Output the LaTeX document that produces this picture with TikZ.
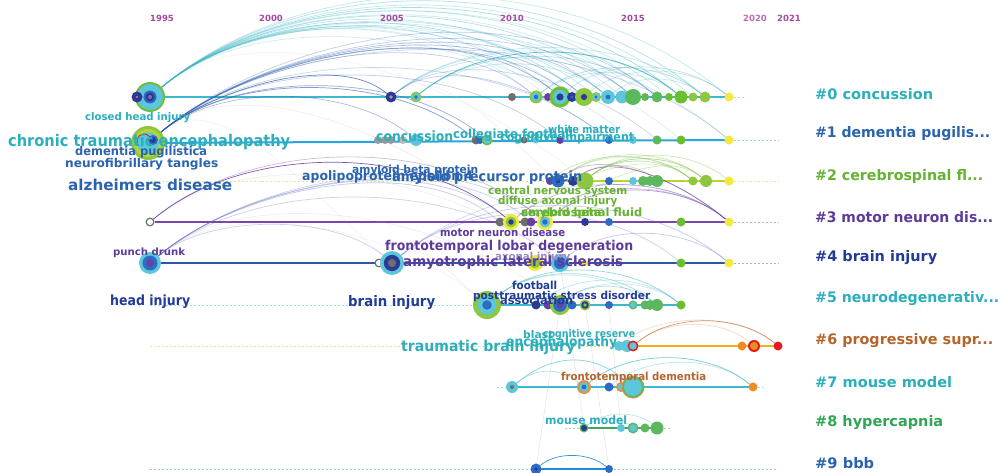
\documentclass[tikz,border=0pt]{standalone}
\usepackage{graphicx}
\usepackage{fontspec}
\setmainfont{DejaVu Sans}
\newcommand\kwf{\bfseries}
\usetikzlibrary{backgrounds}
\definecolor{cDark}{HTML}{2B3A92}
\definecolor{cBlue}{HTML}{2C6CC4}
\definecolor{cCyan}{HTML}{5EC6DA}
\definecolor{cGreen}{HTML}{6FBE3A}
\definecolor{cLgreen}{HTML}{8DC63F}
\definecolor{cMgreen}{HTML}{5CB85C}
\definecolor{cGreenB}{HTML}{6ABF2E}
\definecolor{cYellow}{HTML}{F4E83C}
\definecolor{cOrange}{HTML}{F08C22}
\definecolor{cOrangeL}{HTML}{D8944A}
\definecolor{cRed}{HTML}{E41B1E}
\definecolor{cGray}{HTML}{6E6E6E}
\definecolor{cLgray}{HTML}{9A9A9A}
\definecolor{cPurple}{HTML}{6A3FA4}
\definecolor{tYear}{HTML}{A8489F}
\definecolor{tTeal}{HTML}{2BAFBC}
\definecolor{tBlue}{HTML}{2A63AE}
\definecolor{tNavy}{HTML}{213B96}
\definecolor{tGreen}{HTML}{66B232}
\definecolor{tPurple}{HTML}{5C3B9C}
\definecolor{tBrown}{HTML}{B5652C}
\definecolor{tGreenE}{HTML}{2FA653}
\definecolor{lTeal}{HTML}{3EB7D3}
\definecolor{lBlueA}{HTML}{2BA5DD}
\definecolor{lYG}{HTML}{B7D432}
\definecolor{lPurple}{HTML}{7A45A8}
\definecolor{lNavy}{HTML}{2D56A8}
\definecolor{lOrange}{HTML}{F3B11F}
\definecolor{lGreen}{HTML}{3FA85E}
\definecolor{lBlueN}{HTML}{1E8CD6}
\definecolor{aTeal}{HTML}{3DB6C6}
\definecolor{aBlue}{HTML}{2F5CB0}
\definecolor{aGreen}{HTML}{7DC040}
\definecolor{aPurple}{HTML}{6A3CA0}
\definecolor{aViolet}{HTML}{5B68C0}
\definecolor{aOrange}{HTML}{C9803F}
\definecolor{aGray}{HTML}{B0B0B0}
\newcommand\fs[1]{\fontsize{#1}{#1}\selectfont}
\newcommand\fitw[2]{\resizebox{#1pt}{\height}{#2}}
\newcommand\kwnode[7]{%
  \node[kwn, minimum size={2*#4}, fill=#5] (#1) at (#2,-#3) {};
  \fill[#6] (#1.center) circle ({0.68*#4});
  \fill[#7] (#1.center) circle ({0.34*#4});}
\begin{document}
\begin{tikzpicture}[x=1pt,y=1pt,
  kwn/.style={circle, inner sep=0pt, outer sep=0pt, draw=none},
  yearlab/.style={font=\bfseries\fs{8.5}, text=tYear, inner sep=0pt},
  clab/.style={font=\bfseries\fs{14.5}, anchor=west, inner sep=0pt},
  kl/.style={inner sep=0pt, anchor=west},
  rowline/.style={line width=2pt},
  faintdash/.style={line width=0.6pt, dash pattern=on 2pt off 2pt, opacity=0.45},
  arcb/.style={line width=0.7pt, out=40, in=140, looseness=0.85},
  faintline/.style={line width=0.5pt, draw=aGray, opacity=0.35}]
\useasboundingbox (0,0) rectangle (1000,-473);

% years
\node[yearlab] (y1995) at (162,-18) {1995};
\node[yearlab] (y2000) at (271,-18) {2000};
\node[yearlab] (y2005) at (392,-18) {2005};
\node[yearlab] (y2010) at (512,-18) {2010};
\node[yearlab] (y2015) at (633,-18) {2015};
\node[yearlab, opacity=0.8] (y2020) at (755,-18) {2020};
\node[yearlab] (y2021) at (789,-18) {2021};

% ---------- row 0 ----------
\kwnode{a0}{150}{97}{15}{cGreen}{cCyan}{cCyan}
\fill[cCyan] (a0.center) circle (13);
\fill[cDark] (137,-97) circle (5.5);
\fill[magenta!60] (137,-97) circle (1.2);
\fill[cBlue] (150,-97) circle (6.5);
\fill[cDark] (150,-97) circle (4.5);
\fill[cPurple!80] (150,-97) circle (2);
\kwnode{b0}{391}{97}{5.5}{cDark}{cDark}{cLgray}
\kwnode{c0}{416}{97}{5.5}{cLgreen}{cCyan}{cBlue}
\kwnode{d0}{512}{97}{4}{cGray}{cGray}{cGray}
\kwnode{e0}{536}{97}{6.5}{cLgreen}{cCyan}{cBlue}
\kwnode{f0}{548}{97}{4}{cPurple}{cPurple}{cPurple}
\kwnode{g0}{560}{97}{10.5}{cGreen}{cCyan}{cDark}
\kwnode{h0}{572}{97}{5}{cDark}{cDark}{cBlue}
\kwnode{i0}{584}{97}{9}{cLgreen}{cLgreen}{cDark}
\kwnode{j0}{596}{97}{5}{cLgreen}{cCyan}{cBlue}
\kwnode{k0}{608}{97}{7}{cCyan}{cCyan}{cBlue}
\kwnode{l0}{622}{97}{6.5}{cCyan}{cCyan}{cCyan}
\kwnode{m0}{633}{97}{8}{cMgreen}{cMgreen}{cMgreen}
\kwnode{n0}{645}{97}{4}{cMgreen}{cMgreen}{cMgreen}
\kwnode{o0}{657}{97}{5.5}{cMgreen}{cMgreen}{cMgreen}
\kwnode{p0}{669}{97}{4}{cGreenB}{cGreenB}{cGreenB}
\kwnode{q0}{681}{97}{6.5}{cGreenB}{cGreenB}{cGreenB}
\kwnode{r0}{693}{97}{4.5}{cLgreen}{cLgreen}{cLgreen}
\kwnode{s0}{705}{97}{5.5}{cLgreen}{cLgreen}{cLgreen}
\kwnode{t0}{729}{97}{4.5}{cYellow}{cYellow}{cYellow}
\coordinate (x0) at (745,-97);

% ---------- row 1 ----------
\kwnode{a1}{148}{143}{17}{cLgreen}{cLgreen}{cLgreen}
\fill[lYG] (a1.center) circle (14);
\fill[cCyan] (a1.center) circle (11);
\fill[cBlue] (153,-140) circle (5);
\fill[cDark] (153,-140) circle (3);
\draw[cRed, line width=0.8pt] (150.6,-138.6) arc (20:200:7);
\kwnode{b1}{378}{140}{4}{cLgray}{cLgray}{cLgray}
\kwnode{c1}{385}{140}{4}{cLgray}{cLgray}{cLgray}
\kwnode{d1}{391}{140}{4}{cLgray}{cLgray}{cLgray}
\kwnode{e1}{403}{140}{4}{cLgray!70}{cLgray!70}{cLgray!70}
\kwnode{f1}{416}{140}{6}{cCyan}{cCyan}{cCyan}
\kwnode{g1}{476}{140}{4.5}{cGray}{cGray}{cGray}
\kwnode{h1}{480}{140}{4}{cBlue}{cBlue}{cBlue}
\kwnode{i1}{487}{140}{5.5}{cGreen}{cCyan}{cCyan}
\kwnode{j1}{524}{140}{3.5}{cGray}{cGray}{cGray}
\kwnode{k1}{536}{140}{3.5}{cCyan}{cCyan}{cCyan}
\kwnode{l1}{560}{140}{4}{cPurple}{cPurple}{cPurple}
\kwnode{m1}{609}{140}{4}{cBlue}{cBlue}{cBlue}
\kwnode{n1}{633}{140}{4}{cCyan}{cCyan}{cCyan}
\kwnode{o1}{657}{140}{4.5}{cMgreen}{cMgreen}{cMgreen}
\kwnode{p1}{681}{140}{4.5}{cGreenB}{cGreenB}{cGreenB}
\kwnode{q1}{729}{140}{4.5}{cYellow}{cYellow}{cYellow}
\coordinate (x1) at (778,-140);

% ---------- row 2 ----------
\coordinate (w2) at (150,-181);
\kwnode{a2}{550}{181}{4}{cPurple}{cPurple}{cPurple}
\kwnode{b2}{558}{181}{6.5}{cBlue}{cBlue}{cDark}
\kwnode{c2}{573}{181}{5}{cDark}{cDark}{cDark}
\kwnode{d2}{585}{181}{8.5}{cLgreen}{cLgreen}{cLgreen}
\kwnode{e2}{609}{181}{4}{cBlue}{cBlue}{cBlue}
\kwnode{f2}{633}{181}{4}{cCyan}{cCyan}{cCyan}
\kwnode{g2}{643}{181}{5}{cMgreen}{cMgreen}{cMgreen}
\kwnode{h2}{650}{181}{5}{cMgreen}{cMgreen}{cMgreen}
\kwnode{i2}{657}{181}{6}{cMgreen}{cMgreen}{cMgreen}
\kwnode{j2}{693}{181}{4.5}{cLgreen}{cLgreen}{cLgreen}
\kwnode{k2}{706}{181}{6}{cLgreen}{cLgreen}{cLgreen}
\kwnode{l2}{729}{181}{4.5}{cYellow}{cYellow}{cYellow}
\coordinate (x2) at (778,-181);

% ---------- row 3 ----------
\kwnode{a3}{150}{222}{4.5}{cGray}{white}{white}
\kwnode{b3}{500}{222}{4.5}{cGray}{cGray}{cGray}
\kwnode{c3}{507}{222}{4.5}{cGray}{cGray}{cGray}
\kwnode{d3}{511}{222}{8}{cYellow}{cLgreen}{cDark}
\kwnode{e3}{525}{222}{4.5}{cGray}{cGray}{cGray}
\kwnode{f3}{531}{222}{4.5}{cPurple}{cPurple}{cPurple}
\kwnode{g3}{545}{222}{8}{cYellow}{cCyan}{cBlue}
\kwnode{h3}{585}{222}{4}{cDark}{cDark}{cDark}
\kwnode{i3}{609}{222}{4}{cBlue}{cBlue}{cBlue}
\kwnode{j3}{681}{222}{4.5}{cGreenB}{cGreenB}{cGreenB}
\kwnode{k3}{729}{222}{4.5}{cYellow}{cYellow}{cYellow}
\coordinate (x3) at (778,-222);

% ---------- row 4 ----------
\kwnode{a4}{150}{263}{11}{cCyan}{cBlue}{cPurple}
\kwnode{b4}{379}{263}{4.5}{cGray}{white}{white}
\kwnode{c4}{392}{263}{12}{cCyan}{cDark}{cGray}
\kwnode{d4}{535}{263}{8}{cYellow}{cLgreen}{cLgreen}
\kwnode{e4}{560}{263}{9}{cCyan}{cBlue}{cBlue}
\kwnode{f4}{585}{263}{3}{cYellow}{cYellow}{cYellow}
\kwnode{g4}{681}{263}{4.5}{cGreenB}{cGreenB}{cGreenB}
\kwnode{h4}{729}{263}{4.5}{cYellow}{cYellow}{cYellow}
\coordinate (x4) at (778,-263);

% ---------- row 5 ----------
\coordinate (w5) at (150,-305);
\kwnode{a5}{487}{305}{14}{cLgreen}{cCyan}{cBlue}
\kwnode{b5}{536}{305}{4.5}{cDark}{cDark}{cDark}
\kwnode{c5}{548}{305}{4.5}{cPurple}{cPurple}{cPurple}
\kwnode{d5}{560}{305}{10}{cLgreen}{cBlue}{cPurple}
\kwnode{e5}{572}{305}{4.5}{cBlue}{cBlue}{cBlue}
\kwnode{f5}{585}{305}{5.5}{cLgreen}{cDark}{cLgreen}
\kwnode{g5}{609}{305}{4}{cBlue}{cBlue}{cBlue}
\kwnode{h5}{633}{305}{4.5}{cMgreen}{cCyan}{cCyan}
\kwnode{i5}{645}{305}{4.5}{cMgreen}{cMgreen}{cMgreen}
\kwnode{j5}{650}{305}{5}{cMgreen}{cMgreen}{cMgreen}
\kwnode{k5}{657}{305}{6}{cMgreen}{cMgreen}{cMgreen}
\kwnode{l5}{681}{305}{4.5}{cGreenB}{cGreenB}{cGreenB}

% ---------- row 6 ----------
\coordinate (w6) at (150,-346);
\kwnode{a6}{619}{346}{5}{cCyan}{cCyan}{cCyan}
\kwnode{b6}{627}{346}{6}{cCyan}{cCyan}{cCyan}
\kwnode{c6}{633}{346}{5.5}{cRed}{cCyan}{cCyan}
\kwnode{d6}{742}{346}{4.5}{cOrange}{cOrange}{cOrange}
\kwnode{e6}{754}{346}{6}{cRed}{cOrange}{cOrange}
\kwnode{f6}{778}{346}{4.5}{cRed}{cRed}{cRed}

% ---------- row 7 ----------
\coordinate (w7) at (497,-387);
\kwnode{a7}{512}{387}{6}{cCyan}{cCyan}{cGray}
\kwnode{b7}{584}{387}{7}{cOrangeL}{cCyan}{cBlue}
\kwnode{c7}{609}{387}{4.5}{cBlue}{cBlue}{cBlue}
\kwnode{d7}{621}{387}{5}{cOrange}{cCyan}{cCyan}
\kwnode{e7}{633}{387}{11.5}{cOrangeL}{cCyan}{cCyan}
\fill[cMgreen] (e7.center) circle (10.5);
\fill[cCyan] (e7.center) circle (9);
\kwnode{f7}{753}{387}{4.5}{cOrange}{cOrange}{cOrange}
\coordinate (x7) at (765,-387);

% ---------- row 8 ----------
\coordinate (w8) at (565,-428);
\kwnode{a8}{584}{428}{4.5}{cMgreen}{cDark}{cDark}
\kwnode{b8}{621}{428}{4}{cCyan}{cCyan}{cCyan}
\kwnode{c8}{633}{428}{5.5}{cMgreen}{cCyan}{cCyan}
\kwnode{d8}{645}{428}{4.5}{cMgreen}{cMgreen}{cMgreen}
\kwnode{e8}{657}{428}{6.5}{cMgreen}{cMgreen}{cMgreen}
\coordinate (x8) at (670,-428);

% ---------- row 9 ----------
\coordinate (w9) at (150,-469);
\kwnode{a9}{536}{469}{5.5}{cBlue}{cBlue}{cDark}
\kwnode{b9}{609}{469}{4}{cBlue}{cBlue}{cBlue}
\coordinate (x9) at (778,-469);

\begin{pgfonlayer}{background}
\fill[white] (0,0) rectangle (1000,-473);
% faint straight links
\draw[faintline] (f5.center) -- (b9.center);
\draw[faintline] (d5.center) -- (a9.center);
\draw[faintline] (g5.center) -- (b8.center);
\draw[faintline] (e4.center) -- (a8.center);
% timelines
\draw[rowline, lTeal] (a0.center) -- (t0.center);
\draw[faintdash, lTeal] (t0) -- (x0);
\draw[rowline, lBlueA] (a1.center) -- (q1.center);
\draw[faintdash, lBlueA] (q1) -- (x1);
\draw[faintdash, lYG] (w2) -- (a2);
\draw[rowline, lYG] (a2.center) -- (l2.center);
\draw[faintdash, lYG] (l2) -- (x2);
\draw[rowline, lPurple, line width=1.8pt] (a3) -- (k3.center);
\draw[faintdash, lPurple] (k3) -- (x3);
\draw[rowline, lNavy] (a4.center) -- (h4.center);
\draw[faintdash, lNavy] (h4) -- (x4);
\draw[faintdash, lTeal] (w5) -- (a5);
\draw[rowline, lTeal] (a5.center) -- (l5.center);
\draw[faintdash, lOrange] (w6) -- (a6);
\draw[rowline, lTeal] (a6.center) -- (c6.center);
\draw[rowline, lOrange] (c6.center) -- (f6.center);
\draw[faintdash, lTeal] (w7) -- (a7);
\draw[rowline, lTeal] (a7.center) -- (f7.center);
\draw[faintdash, lTeal] (f7) -- (x7);
\draw[faintdash, lGreen] (w8) -- (a8);
\draw[rowline, lGreen] (a8.center) -- (e8.center);
\draw[faintdash, lGreen] (e8) -- (x8);
\draw[faintdash, lBlueN] (w9) -- (x9);
\draw[rowline, lBlueN] (a9.center) -- (b9.center);
% citation arcs
\foreach \s/\t/\o/\l in {a1/d3/.2/.8, a0/d2/.15/.8, a3/e4/.2/.8, a4/d5/.2/.8, c4/a5/.2/.8, a4/a5/.15/.8, b0/b2/.15/.8, a1/c4/.15/.8}
  \draw[arcb, draw=aGray, opacity=\o, looseness=\l] (\s) to (\t);
\foreach \s/\t/\o/\l in {a0/g0/.35/.85, a0/i0/.45/.85, a0/k0/.35/.85, a0/l0/.3/.8, a0/m0/.4/.84, a0/n0/.25/.84, a0/o0/.35/.86, a0/p0/.25/.84, a0/q0/.45/.85, a0/r0/.3/.86, a0/s0/.4/.88, a0/t0/.3/.89, a0/e0/.25/.88, a0/j0/.3/.8, b0/q0/.3/.8, b0/s0/.3/.8, b0/m0/.3/.8, c0/q0/.85/.85, c0/o0/.4/.85, c0/k0/.3/.85, e0/s0/.4/.85, g0/t0/.35/.85, i0/t0/.3/.85, k0/s0/.3/.85, e0/q0/.3/.8, a0/q1/.25/.8, a0/n1/.25/.8, a0/p1/.2/.84, a0/h0/.25/.82, a0/f0/.2/.86}
  \draw[arcb, draw=aTeal, opacity=\o, looseness=\l] (\s) to (\t);
\foreach \s/\t/\o/\l in {a1/b0/.75/.74, a1/g0/.45/.8, a1/i0/.4/.8, a1/k0/.35/.8, a1/m0/.3/.8, a1/h0/.4/.8, a1/e0/.3/.8, a1/g1/.6/.8, a1/i1/.5/.8, a1/f1/.4/.8, a1/l1/.3/.8, a1/m1/.25/.8, a1/q1/.25/.8, b0/m1/.3/.8, b0/o1/.25/.8, a1/o0/.3/.84}
  \draw[arcb, draw=aBlue, opacity=\o, looseness=\l] (\s) to (\t);
\foreach \s/\t/\o/\l in {d2/k2/.6/.85, d2/j2/.5/.85, b2/k2/.4/.85, c2/i2/.4/.85, a2/j2/.35/.85, d3/j2/.3/.8, g3/k2/.35/.8, d2/l2/.35/.85, b2/j2/.3/.85}
  \draw[arcb, draw=aGreen, opacity=\o, looseness=\l] (\s) to (\t);
\foreach \s/\t/\o/\l in {a3/d3/.85/.84, a3/g3/.35/.84, g3/k3/.5/.85, c2/k3/.6/.8, d3/k3/.4/.85, f3/k3/.3/.85, b2/k3/.35/.8}
  \draw[arcb, draw=aPurple, opacity=\o, looseness=\l] (\s) to (\t);
\foreach \s/\t/\o/\l in {a4/b3/.35/.8, a4/d3/.35/.8, a4/g3/.3/.8, a4/e4/.3/.8, a4/c4/.3/.74, c4/h4/.35/.85, e4/h4/.35/.85, c4/g4/.3/.85, a4/f3/.3/.8, c4/k3/.25/.8}
  \draw[arcb, draw=aViolet, opacity=\o, looseness=\l] (\s) to (\t);
\foreach \s/\t/\o/\l in {a5/l5/.55/.85, a5/k5/.45/.85, d5/k5/.45/.85, b5/l5/.35/.85, a5/j5/.3/.85, d5/l5/.3/.8, a7/e7/.6/1.05, b7/f7/.7/.85, c7/f7/.35/.85, a7/b7/.4/1.0, a8/e8/.35/.85, a8/c8/.3/.85}
  \draw[arcb, draw=aTeal, opacity=\o, looseness=\l] (\s) to (\t);
\foreach \s/\t/\o/\l in {c6/f6/.8/.85, c6/e6/.3/.85, a6/f6/.25/.8}
  \draw[arcb, draw=aOrange, opacity=\o, looseness=\l] (\s) to (\t);
\draw[arcb, draw=lBlueN, opacity=.9] (a9) to (b9);
\end{pgfonlayer}

% keyword labels
\node[kl, text=tTeal, font={\kwf\fs{10.5}}] (kCHI) at (85,-118) {\fitw{105}{closed head injury}};
\node[kl, text=tTeal, font={\kwf\fs{16}}] (kCTE) at (8,-142) {\fitw{282}{chronic traumatic encephalopathy}};
\node[kl, text=tBlue, font={\kwf\fs{12}}] (kDP) at (75,-152) {\fitw{132}{dementia pugilistica}};
\node[kl, text=tBlue, font={\kwf\fs{12}}] (kNT) at (65,-164) {\fitw{153}{neurofibrillary tangles}};
\node[kl, text=tBlue, font={\kwf\fs{15}}] (kAD) at (68,-185) {\fitw{164}{alzheimers disease}};
\node[kl, text=tPurple, font={\kwf\fs{10}}] (kPD) at (113,-253) {\fitw{72}{punch drunk}};
\node[kl, text=tNavy, font={\kwf\fs{14}}] (kHI) at (110,-302) {\fitw{80}{head injury}};
\node[kl, text=tTeal, font={\kwf\fs{14}}] (kCON) at (376,-136) {\fitw{77}{concussion}};
\node[kl, text=tTeal, font={\kwf\fs{12.5}}] (kCI) at (500,-138) {\fitw{134}{cognitive impairment}};
\node[kl, text=tTeal, font={\kwf\fs{12.5}}] (kCF) at (453,-135) {\fitw{120}{collegiate football}};
\node[kl, text=tTeal, font={\kwf\fs{11}}] (kWM) at (548,-129) {\fitw{72}{white matter}};
\node[kl, text=tBlue, font={\kwf\fs{11}}] (kABP) at (352,-171) {\fitw{126}{amyloid beta protein}};
\node[kl, text=tBlue, font={\kwf\fs{13}}] (kAPOE) at (302,-177) {\fitw{171}{apolipoprotein epsilon 4}};
\node[kl, text=tBlue, font={\kwf\fs{14}}] (kAPP) at (392,-178) {\fitw{190}{amyloid precursor protein}};
\node[kl, text=tGreen, font={\kwf\fs{11}}] (kCNS) at (488,-192) {\fitw{139}{central nervous system}};
\node[kl, text=tGreen, font={\kwf\fs{11}}] (kDAI) at (498,-202) {\fitw{119}{diffuse axonal injury}};
\node[kl, text=tGreen, font={\kwf\fs{11.5}}] (kCSF) at (521,-213) {\fitw{121}{cerebrospinal fluid}};
\node[kl, text=tGreen, font={\kwf\fs{11.5}}] (kAB) at (521,-213) {\fitw{80}{amyloid beta}};
\node[kl, text=tPurple, font={\kwf\fs{11}}] (kMND) at (440,-232) {\fitw{125}{motor neuron disease}};
\node[kl, text=tPurple!60, font={\kwf\fs{11}}] (kAI) at (495,-258) {\fitw{75}{axonal injury}};
\node[kl, text=tPurple, font={\kwf\fs{13.5}}] (kFTLD) at (385,-247) {\fitw{248}{frontotemporal lobar degeneration}};
\node[kl, text=tPurple, font={\kwf\fs{14}}] (kALS) at (403,-263) {\fitw{220}{amyotrophic lateral sclerosis}};
\node[kl, text=tNavy, font={\kwf\fs{14.5}}] (kBI) at (348,-303) {\fitw{87}{brain injury}};
\node[kl, text=tNavy, font={\kwf\fs{11}}] (kFB) at (512,-285) {\fitw{45}{football}};
\node[kl, text=tNavy, font={\kwf\fs{11}}] (kPTSD) at (473,-296) {\fitw{177}{posttraumatic stress disorder}};
\node[kl, text=tNavy, font={\kwf\fs{11}}] (kAS) at (500,-300) {\fitw{73}{association}};
\node[kl, text=tTeal, font={\kwf\fs{15}}] (kTBI) at (401,-347) {\fitw{174}{traumatic brain injury}};
\node[kl, text=tTeal, font={\kwf\fs{13.5}}] (kENC) at (506,-343) {\fitw{111}{encephalopathy}};
\node[kl, text=tTeal, font={\kwf\fs{10.5}}] (kBL) at (523,-335) {\fitw{30}{blast}};
\node[kl, text=tTeal, font={\kwf\fs{10.5}}] (kCR) at (543,-335) {\fitw{92}{cognitive reserve}};
\node[kl, text=tBrown, font={\kwf\fs{11}}] (kFTD) at (561,-377) {\fitw{145}{frontotemporal dementia}};
\node[kl, text=tTeal, font={\kwf\fs{11.5}}] (kMM) at (545,-420) {\fitw{82}{mouse model}};

% cluster labels
\node[clab, text=tTeal] (cl0) at (815,-94) {\fitw{118}{\#0 concussion}};
\node[clab, text=tBlue] (cl1) at (815,-134) {\fitw{175}{\#1 dementia pugilis...}};
\node[clab, text=tGreen] (cl2) at (815,-176) {\fitw{168}{\#2 cerebrospinal fl...}};
\node[clab, text=tPurple] (cl3) at (815,-217) {\fitw{178}{\#3 motor neuron dis...}};
\node[clab, text=tNavy] (cl4) at (815,-258) {\fitw{122}{\#4 brain injury}};
\node[clab, text=tTeal] (cl5) at (815,-299) {\fitw{184}{\#5 neurodegenerativ...}};
\node[clab, text=tBrown] (cl6) at (815,-341) {\fitw{178}{\#6 progressive supr...}};
\node[clab, text=tTeal] (cl7) at (815,-382) {\fitw{137}{\#7 mouse model}};
\node[clab, text=tGreenE] (cl8) at (815,-423) {\fitw{128}{\#8 hypercapnia}};
\node[clab, text=tBlue] (cl9) at (815,-463) {\fitw{59}{\#9 bbb}};
\end{tikzpicture}
\end{document}
